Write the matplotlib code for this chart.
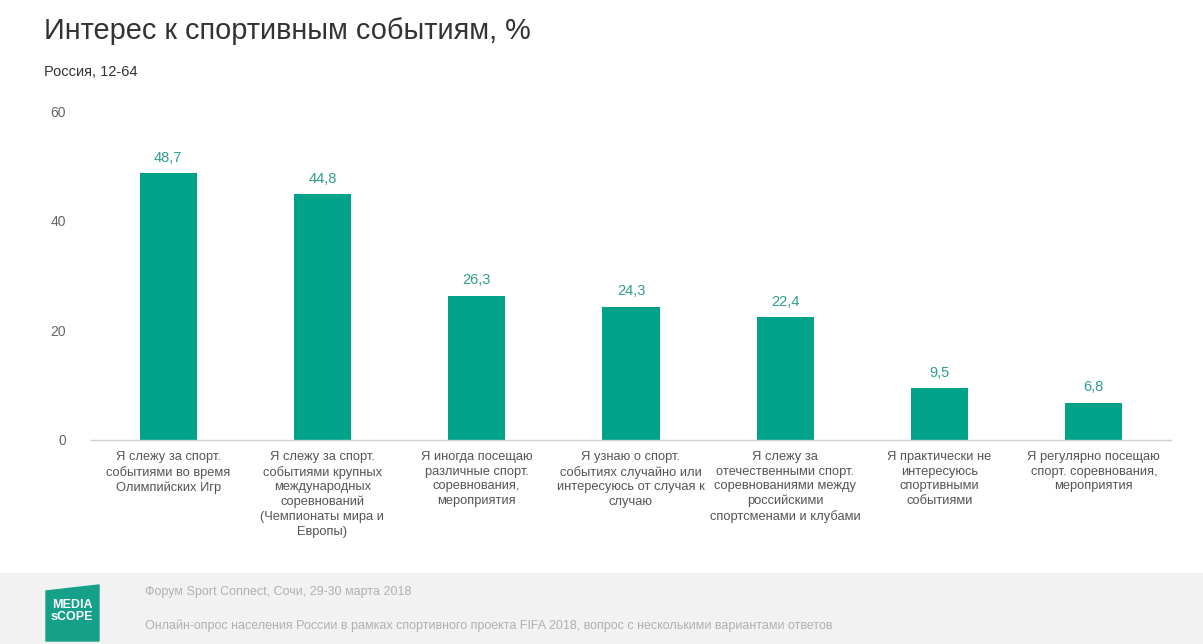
import matplotlib.pyplot as plt
from matplotlib.patches import Polygon

# ── data ───────────────────────────────────────────────────────────────────────
CATEGORIES = [
    "Я слежу за спорт.\nсобытиями во время\nОлимпийских Игр",
    "Я слежу за спорт.\nсобытиями крупных\nмеждународных\nсоревнований\n(Чемпионаты мира и\nЕвропы)",
    "Я иногда посещаю\nразличные спорт.\nсоревнования,\nмероприятия",
    "Я узнаю о спорт.\nсобытиях случайно или\nинтересуюсь от случая к\nслучаю",
    "Я слежу за\nотечественными спорт.\nсоревнованиями между\nроссийскими\nспортсменами и клубами",
    "Я практически не\nинтересуюсь\nспортивными\nсобытиями",
    "Я регулярно посещаю\nспорт. соревнования,\nмероприятия",
]
VALUES = [48.7, 44.8, 26.3, 24.3, 22.4, 9.5, 6.8]
Y_TICKS = [0, 20, 40, 60]

TITLE = "Интерес к спортивным событиям, %"
SUBTITLE = "Россия, 12-64"
FOOTER_1 = "Форум Sport Connect, Сочи, 29-30 марта 2018"
FOOTER_2 = ("Онлайн-опрос населения России в рамках спортивного проекта FIFA 2018, "
            "вопрос с несколькими вариантами ответов")

# ── style ──────────────────────────────────────────────────────────────────────
TEAL = "#00a28a"
LABEL_TEAL = "#2f9e8f"
plt.rcParams["font.family"] = ["Liberation Sans", "DejaVu Sans"]

fig = plt.figure(figsize=(12.03, 6.44), dpi=100)
fig.patch.set_facecolor("white")

ax = fig.add_axes([0.0756, 0.3168, 0.8978, 0.5108])
x = range(len(VALUES))
bars = ax.bar(x, VALUES, width=0.37, color=TEAL, zorder=2)

for b, v in zip(bars, VALUES):
    ax.annotate(f"{v:.1f}".replace(".", ","),
                (b.get_x() + b.get_width() / 2, v),
                xytext=(0, 6), textcoords="offset points",
                ha="center", va="bottom", fontsize=10.5, color=LABEL_TEAL)

ax.set_xlim(-0.5, len(VALUES) - 0.5)
ax.set_ylim(0, 60)
ax.set_yticks(Y_TICKS)
ax.set_yticklabels([str(t) for t in Y_TICKS], fontsize=10, color="#666666")
ax.set_xticks(list(x))
ax.set_xticklabels(CATEGORIES, fontsize=9.3, color="#555555", linespacing=1.28,
                   va="top")
ax.tick_params(axis="both", length=0)
ax.tick_params(axis="y", pad=18)
ax.tick_params(axis="x", pad=8)
for side in ("top", "right", "left"):
    ax.spines[side].set_visible(False)
ax.spines["bottom"].set_color("#d0d0d0")
ax.spines["bottom"].set_linewidth(1.0)

# ── titles ─────────────────────────────────────────────────────────────────────
fig.text(44 / 1203, 1 - 31 / 644, TITLE, fontsize=20.8, color="#333333",
         ha="left", va="center")
fig.text(44 / 1203, 1 - 72 / 644, SUBTITLE, fontsize=10.5, color="#333333",
         ha="left", va="center")

# ── footer band ────────────────────────────────────────────────────────────────
footer = fig.add_axes([0, 0, 1, 71 / 644])
footer.set_xlim(0, 1203)
footer.set_ylim(644, 573)
footer.set_facecolor("#f2f2f2")
footer.axis("off")
footer.add_patch(plt.Rectangle((0, 573), 1203, 71, color="#f2f2f2", zorder=0))
footer.add_patch(Polygon([(46, 591), (99, 585), (99, 641), (46, 641)],
                         closed=True, color="#15a08a", zorder=1))
footer.text(72, 611, "MEDIA\nsCOPE", ha="center", va="center", color="white",
            fontsize=9, fontweight="bold", linespacing=0.9, zorder=2)
footer.text(145, 592, FOOTER_1, fontsize=9, color="#b0b0b0",
            ha="left", va="center")
footer.text(145, 626, FOOTER_2, fontsize=9, color="#b0b0b0",
            ha="left", va="center")

fig.savefig("out.png", dpi=100)
